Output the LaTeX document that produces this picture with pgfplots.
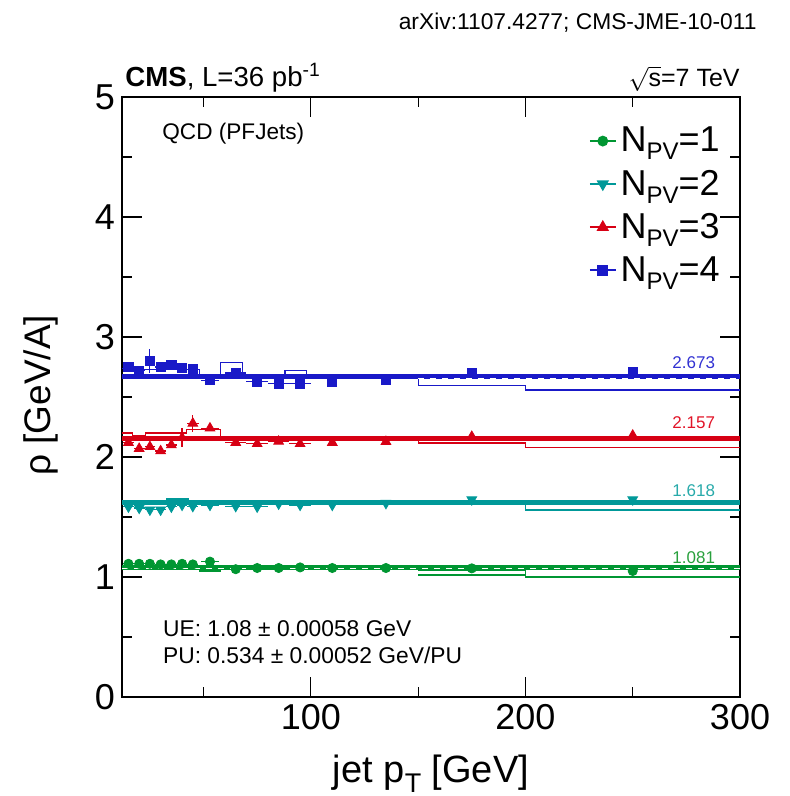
\documentclass[border=0pt]{standalone}
\usepackage{pgfplots}
\pgfplotsset{compat=1.18}
\usepackage{fontspec}
\setmainfont{Liberation Sans}
\definecolor{cgreen}{RGB}{0,150,50}
\definecolor{cteal}{RGB}{0,153,153}
\definecolor{cred}{RGB}{215,0,20}
\definecolor{cblue}{RGB}{25,25,200}
\definecolor{lgreen}{RGB}{40,160,60}
\definecolor{lteal}{RGB}{40,170,170}
\definecolor{lred}{RGB}{225,20,40}
\definecolor{lblue}{RGB}{50,50,210}
\newcommand{\npv}{N\raisebox{-4pt}{\fontsize{12}{12}\selectfont PV}}
\begin{document}
\begin{tikzpicture}
\useasboundingbox (-61pt,-49.5pt) rectangle (333.5pt,348.5pt);
\begin{axis}[
  at={(0,0)}, anchor=south west,
  scale only axis, width=309pt, height=300pt,
  xmin=12, xmax=300, ymin=0, ymax=5,
  xtick={100,200,300}, minor xtick={50,150,250},
  ytick={0,1,2,3,4,5}, minor ytick={0.5,1.5,2.5,3.5,4.5},
  tick align=inside, major tick length=10pt, minor tick length=5pt,
  tick style={black, line width=0.6pt},
  axis line style={line width=0.8pt},
  ticklabel style={font=\fontsize{18}{18}\selectfont},
  /pgf/number format/assume math mode=true,
  clip=false,
  legend style={at={(rel axis cs:0.755,0.957)}, anchor=north west, draw=none, fill=none,
    font=\fontsize{18}{18}\selectfont, row sep=3.5pt, inner sep=0pt,
    /tikz/every even column/.append style={column sep=0pt}},
  legend cell align=left,
  legend image code/.code={\draw[mark repeat=2,mark phase=2,#1] plot coordinates {(0pt,0pt) (6.5pt,0pt) (13pt,0pt)};},
]
% legend
\addlegendimage{cgreen, mark=*, mark size=2.3pt, line width=0.8pt}
\addlegendentry{\npv=1}
\addlegendimage{cteal, mark=triangle*, mark size=2.8pt, mark options={rotate=180}, line width=0.8pt}
\addlegendentry{\npv=2}
\addlegendimage{cred, mark=triangle*, mark size=2.8pt, line width=0.8pt}
\addlegendentry{\npv=3}
\addlegendimage{cblue, mark=square*, mark size=2.3pt, line width=0.8pt}
\addlegendentry{\npv=4}

% thin step outlines
\addplot[forget plot, const plot, cblue, line width=0.6pt] coordinates {
(12,2.74) (20,2.73) (42,2.73) (48,2.675) (58,2.79) (68,2.675) (88,2.72) (98,2.675) (150,2.594) (200,2.558) (300,2.558)};
\addplot[forget plot, const plot, cred, line width=0.6pt] coordinates {
(12,2.20) (17,2.18) (23,2.20) (42,2.23) (58,2.157) (150,2.117) (200,2.078) (300,2.078)};
\addplot[forget plot, const plot, cteal, line width=0.6pt] coordinates {
(12,1.618) (33,1.65) (43,1.618) (200,1.558) (300,1.558)};
\addplot[forget plot, const plot, cgreen, line width=0.6pt] coordinates {
(12,1.08) (48,1.05) (58,1.07) (150,1.058) (200,1.0) (300,1.0)};
\addplot[forget plot, const plot, cgreen, line width=0.6pt] coordinates {
(150,1.017) (200,1.017)};

% thick fit lines
\addplot[forget plot, cblue, line width=2.6pt] coordinates {(12,2.673) (300,2.673)};
\addplot[forget plot, cred, line width=2.6pt] coordinates {(12,2.157) (300,2.157)};
\addplot[forget plot, cteal, line width=2.6pt] coordinates {(12,1.618) (300,1.618)};
\addplot[forget plot, cgreen, line width=2.6pt] coordinates {(12,1.081) (300,1.081)};

% dashed white overlays
\addplot[forget plot, white, dashed, line width=0.6pt] coordinates {(150,2.652) (300,2.652)};
\addplot[forget plot, white, dashed, line width=0.6pt] coordinates {(12,1.074) (300,1.074)};
\addplot[forget plot, white, dashed, line width=0.6pt] coordinates {(150,1.038) (200,1.038)};

% data points
\addplot[forget plot, only marks, cgreen, mark=*, mark size=2.3pt,
  error bars/.cd, x dir=both, x explicit, y dir=both, y explicit,
  error mark=none, error bar style={line width=0.6pt}] coordinates {
(15,1.11) +- (2.5,0.02) (20,1.11) +- (2.5,0.02) (25,1.11) +- (2.5,0.02) (30,1.105) +- (2.5,0.02)
(35,1.105) +- (2.5,0.02) (40,1.11) +- (2.5,0.02) (45,1.105) +- (2.5,0.02) (53,1.128) +- (4,0.02)
(65,1.065) +- (5,0.01) (75,1.075) +- (5,0.01) (85,1.075) +- (5,0.01) (95,1.08) +- (5,0.01)
(110,1.075) +- (0,0.01) (135,1.075) +- (0,0.01) (175,1.072) +- (0,0.01) (250,1.05) +- (0,0.01)};
\addplot[forget plot, only marks, cteal, mark=triangle*, mark size=2.8pt, mark options={rotate=180},
  error bars/.cd, x dir=both, x explicit, y dir=both, y explicit,
  error mark=none, error bar style={line width=0.6pt}] coordinates {
(15,1.585) +- (2.5,0.02) (20,1.575) +- (2.5,0.02) (25,1.56) +- (2.5,0.02) (30,1.56) +- (2.5,0.02)
(35,1.585) +- (2.5,0.02) (40,1.60) +- (2.5,0.02) (45,1.59) +- (2.5,0.02) (53,1.60) +- (4,0.02)
(65,1.59) +- (5,0.01) (75,1.585) +- (5,0.01) (85,1.61) +- (5,0.01) (95,1.60) +- (5,0.01)
(110,1.60) +- (0,0.01) (135,1.615) +- (0,0.01) (175,1.645) +- (0,0.01) (250,1.645) +- (0,0.01)};
\addplot[forget plot, only marks, cred, mark=triangle*, mark size=2.8pt,
  error bars/.cd, x dir=both, x explicit, y dir=both, y explicit,
  error mark=none, error bar style={line width=0.6pt}] coordinates {
(15,2.12) +- (2.5,0.02) (20,2.07) +- (2.5,0.02) (25,2.085) +- (2.5,0.02) (30,2.05) +- (2.5,0.02)
(35,2.10) +- (2.5,0.02) (40,2.16) +- (2.5,0.08) (45,2.28) +- (2.8,0.07) (53,2.24) +- (4,0.02)
(65,2.12) +- (5,0.01) (75,2.11) +- (5,0.01) (85,2.13) +- (5,0.01) (95,2.11) +- (5,0.01)
(110,2.12) +- (0,0.01) (135,2.128) +- (0,0.01) (175,2.17) +- (0,0.01) (250,2.18) +- (0,0.01)};
\addplot[forget plot, only marks, cblue, mark=square*, mark size=2.3pt,
  error bars/.cd, x dir=both, x explicit, y dir=both, y explicit,
  error mark=none, error bar style={line width=0.6pt}] coordinates {
(15,2.75) +- (2.5,0.02) (20,2.72) +- (2.5,0.02) (25,2.80) +- (2.5,0.10) (30,2.75) +- (2.5,0.02)
(35,2.77) +- (2.5,0.02) (40,2.74) +- (2.5,0.02) (45,2.73) +- (2.5,0.02) (53,2.64) +- (4,0.02)
(65,2.70) +- (5,0.01) (75,2.63) +- (5,0.01) (85,2.61) +- (5,0.01) (95,2.61) +- (5,0.01)
(110,2.63) +- (0,0.01) (135,2.64) +- (0,0.01) (175,2.70) +- (0,0.01) (250,2.71) +- (0,0.01)};

% fit value labels
\node[anchor=east, text=lblue, font=\fontsize{8.5}{8.5}\selectfont] at (rel axis cs:0.971,0.558) {2.673};
\node[anchor=east, text=lred, font=\fontsize{8.5}{8.5}\selectfont] at (rel axis cs:0.971,0.457) {2.157};
\node[anchor=east, text=lteal, font=\fontsize{8.5}{8.5}\selectfont] at (rel axis cs:0.971,0.344) {1.618};
\node[anchor=east, text=lgreen, font=\fontsize{8.5}{8.5}\selectfont] at (rel axis cs:0.971,0.233) {1.081};

% texts
\node[anchor=base west, inner sep=0pt, font=\fontsize{11.3}{11.3}\selectfont] at (rel axis cs:0.0647,0.93) {QCD (PFJets)};
\node[anchor=base west, inner sep=0pt, font=\fontsize{11.4}{11.4}\selectfont] at (rel axis cs:0.0659,0.1005) {UE: 1.08 ± 0.00058 GeV};
\node[anchor=base west, inner sep=0pt, font=\fontsize{11.4}{11.4}\selectfont] at (rel axis cs:0.0659,0.056) {PU: 0.534 ± 0.00052 GeV/PU};
\node[anchor=base west, inner sep=0pt, font=\fontsize{13.8}{13.8}\selectfont] at (rel axis cs:0.005,1.0172) {\textbf{CMS}, L=36 pb\textsuperscript{-1}};
\node[anchor=base east, inner sep=0pt, font=\fontsize{12.5}{12.5}\selectfont] at (rel axis cs:1.0,1.0172) {$\sqrt{\mbox{s}}$=7 TeV};
\node[anchor=base east, inner sep=0pt, font=\fontsize{11.4}{11.4}\selectfont] at (rel axis cs:1.0275,1.113) {arXiv:1107.4277; CMS-JME-10-011};
% axis labels
\node[rotate=90, anchor=base, inner sep=0pt, font=\fontsize{18.5}{18.5}\selectfont] at (rel axis cs:-0.1149,0.503) {ρ [GeV/A]};
\node[anchor=base, inner sep=0pt, font=\fontsize{19}{19}\selectfont] at (rel axis cs:0.5,-0.1433) {jet p\raisebox{-5pt}{\fontsize{13.5}{13.5}\selectfont T} [GeV]};
\end{axis}
\end{tikzpicture}
\end{document}
